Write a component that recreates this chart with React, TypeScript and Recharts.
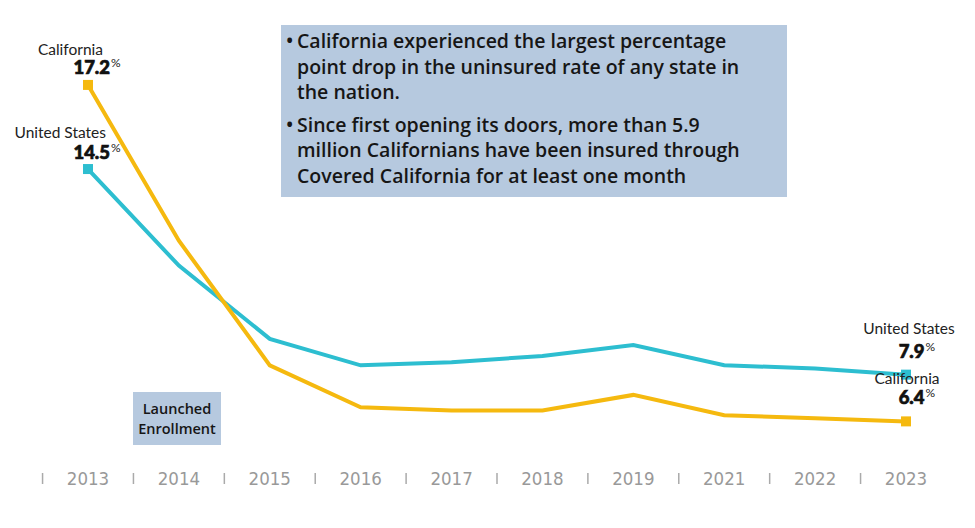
import { LineChart, Line, XAxis, YAxis } from 'recharts';

const years = ['2013', '2014', '2015', '2016', '2017', '2018', '2019', '2021', '2022', '2023'];
const california = [17.2, 12.2, 8.2, 6.85, 6.75, 6.75, 7.25, 6.6, 6.5, 6.4];
const unitedStates = [14.5, 11.4, 9.05, 8.2, 8.3, 8.5, 8.85, 8.2, 8.1, 7.9];

const notes = [
  'California experienced the largest percentage point drop in the uninsured rate of any state in the nation.',
  'Since first opening its doors, more than 5.9 million Californians have been insured through Covered California for at least one month',
];

const GOLD = '#F5B90F';
const TEAL = '#2DBED0';
const W = 975;
const H = 528;
const M = { top: 60, right: 69, left: 88, bottom: 33 };
const step = (W - M.left - M.right) / (years.length - 1);

const data = years.map((year, i) => ({ year, california: california[i], us: unitedStates[i] }));

const labelFont = 'Lato, "Open Sans", sans-serif';
const boxFont = '"Open Sans", "Noto Sans", sans-serif';

function YearTick(props: any) {
  const { x, y, payload } = props;
  return (
    <g>
      <line x1={x - step / 2} x2={x - step / 2} y1={y + 8} y2={y + 19} stroke="#aaaaaa" strokeWidth={1.5} />
      <text x={x} y={y + 20} textAnchor="middle" fill="#999" fontSize={18.5}
        fontFamily='"Liberation Sans Narrow", "DejaVu Sans Condensed", sans-serif'>
        {payload.value}
      </text>
    </g>
  );
}

// square marker plus name / value label on the first and last points only
function endDot(name: string, color: string, nameX: [number, number], nameY: [number, number]) {
  return (props: any) => {
    const { cx, cy, index, value } = props;
    const last = index === years.length - 1;
    if (index !== 0 && !last) return <g key={`d${index}`} />;
    const v = Array.isArray(value) ? value[1] : value;
    const k = last ? 1 : 0;
    const vx = last ? cx + 18.5 : cx + 22;
    return (
      <g key={`d${index}`}>
        <rect x={cx - 5} y={cy - 5} width={10} height={10} fill={color} />
        <text fontFamily={labelFont}>
          <tspan x={cx + nameX[k]} y={cy + nameY[k]} textAnchor={last ? 'middle' : 'end'}
            fontSize={15.5} fill="#222">{name}</tspan>
          <tspan x={vx} y={cy - (last ? 17 : 10.5)} textAnchor="end" fontSize={18.5}
            fontWeight={900} fill="#111" stroke="#111" strokeWidth={0.7}>{v.toFixed(1)}</tspan>
          <tspan x={vx + 1} y={cy - (last ? 24 : 17.5)} textAnchor="start" fontSize={12} fill="#222">%</tspan>
        </text>
      </g>
    );
  };
}

export default function App() {
  return (
    <div style={{ position: 'absolute', left: 0, top: 0, width: W, height: H, background: '#fff' }}>
      <LineChart width={W} height={H} data={data} margin={M}>
        <XAxis dataKey="year" axisLine={false} tickLine={false} tickSize={0} tickMargin={0}
          interval={0} height={30} tick={<YearTick />} />
        <YAxis hide domain={[5, 18]} />
        <Line type="linear" dataKey="us" stroke={TEAL} strokeWidth={4} isAnimationActive={false}
          dot={endDot('United States', TEAL, [18, 3], [-31, -41])} activeDot={false} />
        <Line type="linear" dataKey="california" stroke={GOLD} strokeWidth={4} isAnimationActive={false}
          dot={endDot('California', GOLD, [15, 1], [-30, -37.5])} activeDot={false} />
      </LineChart>

      <div style={{
        position: 'absolute', left: 281, top: 25, width: 506, height: 172, boxSizing: 'border-box',
        background: '#B6C9DF', padding: '3px 34px 0 5px', fontFamily: boxFont, fontWeight: 600,
        fontSize: 19.5, lineHeight: '25.5px', color: '#161616',
      }}>
        {notes.map((t, i) => (
          <div key={i} style={{ display: 'flex', marginTop: i ? 7 : 0 }}>
            <span style={{ width: 11, flexShrink: 0 }}>•</span>
            <span>{t}</span>
          </div>
        ))}
      </div>

      <div style={{
        position: 'absolute', left: 133, top: 392, width: 88, height: 53, boxSizing: 'border-box',
        background: '#B6C9DF', display: 'flex', flexDirection: 'column', justifyContent: 'center',
        alignItems: 'center', fontFamily: boxFont, fontWeight: 600, fontSize: 14.5, lineHeight: '20px',
        color: '#161616',
      }}>
        <span>Launched</span>
        <span>Enrollment</span>
      </div>
    </div>
  );
}
